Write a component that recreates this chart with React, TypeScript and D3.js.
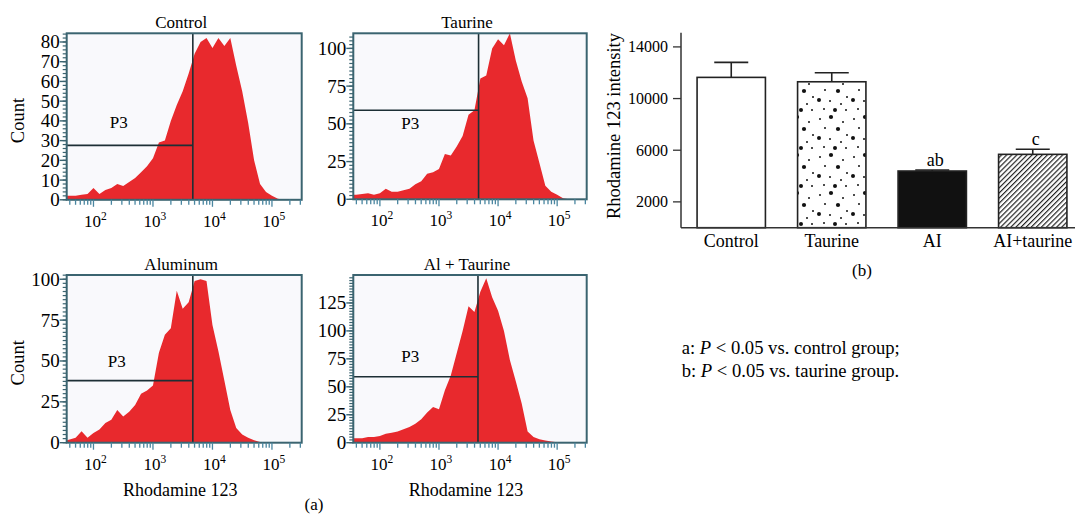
import React, { useEffect, useRef } from 'react'
import * as d3 from 'd3'

// log10 fluorescence bins shared by the four histograms
const bins = [1.55, 1.6, 1.7, 1.8, 1.9, 2.0, 2.1, 2.2, 2.3, 2.4, 2.5, 2.6, 2.7, 2.8, 2.9, 3.0, 3.1, 3.2, 3.3, 3.4, 3.5, 3.6, 3.7, 3.8, 3.9, 4.0, 4.1, 4.2, 4.3, 4.4, 4.5, 4.6, 4.7, 4.8, 4.9, 5.0, 5.1, 5.2, 5.3]

const controlCounts = [2, 2, 2, 2.5, 3, 6, 3, 5, 6, 8, 7, 9, 11, 14, 17, 21, 29, 30, 40, 48, 55, 64, 74, 80, 82, 77, 82, 78, 82, 68, 55, 39, 20, 8, 4, 2, 0.5, 0, 0]
const taurineCounts = [3, 3, 3.5, 4, 3, 4, 7, 5, 5, 6, 7, 10, 12, 17, 18, 20, 30, 29, 35, 42, 56, 59, 80, 82, 100, 106, 102, 110, 92, 78, 67, 39, 24, 9, 5, 3, 0.7, 0, 0]
const aluminumCounts = [1.5, 2, 3, 7, 3, 6, 8, 12, 14, 20, 16, 19, 23, 30, 32, 35, 55, 66, 70, 93, 82, 86, 99, 100, 99, 72, 56, 38, 20, 9, 5, 3, 1.5, 0.4, 0, 0, 0, 0, 0]
const alTaurineCounts = [4, 4, 4, 5, 5, 6, 8, 9, 10, 12, 14, 17, 21, 27, 32, 30, 47, 60, 80, 100, 122, 117, 135, 147, 130, 118, 100, 74, 55, 35, 10, 5, 3, 2, 1, 0.5, 0, 0, 0]

const panelTitles = ['Control', 'Taurine', 'Aluminum', 'Al + Taurine']
const countMax = [84.4, 110, 102.6, 150]
const countTicks = [
  [0, 10, 20, 30, 40, 50, 60, 70, 80],
  [0, 25, 50, 75, 100],
  [0, 25, 50, 75, 100],
  [0, 25, 50, 75, 100, 125],
]
const gateCounts = [27.6, 59, 38, 59]
const gateLog = [3.67, 3.67, 3.67, 3.66]
const decades = [2, 3, 4, 5]

// bar chart (b)
const groups = ['Control', 'Taurine', 'AI', 'AI+taurine']
const means = [11640, 11300, 4390, 5680]
const errors = [1160, 700, 80, 390]
const sigLabels = ['', '', 'ab', 'c']
const intensityTicks = [2000, 6000, 10000, 14000]

export default function App() {
  const svgRef = useRef<SVGSVGElement>(null)

  useEffect(() => {
    const svg = d3.select(svgRef.current)
    svg.selectAll('*').remove()
    const serif = '"Liberation Serif", "Times New Roman", serif'
    const red = '#e8292d'
    const frame = '#3b6470'
    const ink = '#222'

    const defs = svg.append('defs')

    // ---------- (a) histograms ----------
    const boxes = [
      { x0: 66.7, y0: 33.3, w: 235, h: 166.5, p3: [52, 95], xlab: false },
      { x0: 353.3, y0: 33.3, w: 233.4, h: 166, p3: [57, 96], xlab: false },
      { x0: 66.7, y0: 275, w: 235, h: 167.7, p3: [50, 92], xlab: true },
      { x0: 353.3, y0: 275, w: 233.4, h: 167.7, p3: [57, 87], xlab: true },
    ]
    const allCounts = [controlCounts, taurineCounts, aluminumCounts, alTaurineCounts]

    boxes.forEach((b, i) => {
      const g = svg.append('g')
      const xs = d3.scaleLog().domain([10 ** 1.55, 10 ** 5.5]).range([b.x0, b.x0 + b.w])
      const ys = d3.scaleLinear().domain([0, countMax[i]]).range([b.y0 + b.h, b.y0])

      defs.append('clipPath').attr('id', `clip${i}`)
        .append('rect').attr('x', b.x0).attr('y', b.y0).attr('width', b.w).attr('height', b.h)

      g.append('rect')
        .attr('x', b.x0).attr('y', b.y0).attr('width', b.w).attr('height', b.h)
        .attr('fill', '#f9f9fc')

      const area = d3.area<number>()
        .x((d, j) => xs(10 ** bins[j]))
        .y0(ys(0))
        .y1(d => ys(d))
      g.append('path')
        .datum(allCounts[i])
        .attr('d', area)
        .attr('fill', red)
        .attr('clip-path', `url(#clip${i})`)

      // gates
      const gx = xs(10 ** gateLog[i])
      g.append('line').attr('x1', gx).attr('x2', gx).attr('y1', b.y0).attr('y2', b.y0 + b.h)
        .attr('stroke', '#1d2f35').attr('stroke-width', 1.6)
      g.append('line').attr('x1', b.x0).attr('x2', gx).attr('y1', ys(gateCounts[i])).attr('y2', ys(gateCounts[i]))
        .attr('stroke', '#1d2f35').attr('stroke-width', 1.6)
      g.append('text')
        .attr('x', b.x0 + b.p3[0]).attr('y', b.y0 + b.p3[1])
        .attr('text-anchor', 'middle')
        .style('font-family', serif).style('font-size', '17px')
        .text('P3')

      // frame
      g.append('rect')
        .attr('x', b.x0).attr('y', b.y0).attr('width', b.w).attr('height', b.h)
        .attr('fill', 'none').attr('stroke', frame).attr('stroke-width', 2)

      // left ruler
      const step = i === 0 ? 2 : 2.5
      g.selectAll('.minor')
        .data(d3.range(0, countMax[i], step))
        .join('line')
        .attr('x1', b.x0 - 4).attr('x2', b.x0)
        .attr('y1', d => ys(d)).attr('y2', d => ys(d))
        .attr('stroke', frame).attr('stroke-width', 1.2)
      g.selectAll('.ytick')
        .data(countTicks[i])
        .join('g')
        .each(function (d) {
          const t = d3.select(this)
          t.append('line').attr('x1', b.x0 - 7).attr('x2', b.x0)
            .attr('y1', ys(d)).attr('y2', ys(d)).attr('stroke', frame).attr('stroke-width', 1.4)
          t.append('text')
            .attr('x', b.x0 - 7).attr('y', ys(d) + 6.5)
            .attr('text-anchor', 'end')
            .style('font-family', serif).style('font-size', '19px')
            .text(d)
        })

      // bottom log ticks
      const logTicks: number[] = []
      for (let e = 1; e <= 5; e++) {
        for (let k = 1; k <= 9; k++) {
          const v = k * 10 ** e
          if (v >= 10 ** 1.55 && v <= 10 ** 5.5) logTicks.push(v)
        }
      }
      g.selectAll('.xtick')
        .data(logTicks)
        .join('line')
        .attr('x1', d => xs(d)).attr('x2', d => xs(d))
        .attr('y1', b.y0 + b.h).attr('y2', d => b.y0 + b.h + (Math.log10(d) % 1 === 0 ? 7 : 5))
        .attr('stroke', '#4a86a0').attr('stroke-width', 1.3)

      decades.forEach(e => {
        const t = g.append('text')
          .attr('x', xs(10 ** e) + 2).attr('y', b.y0 + b.h + 27)
          .attr('text-anchor', 'middle')
          .style('font-family', serif).style('font-size', '17px')
        t.append('tspan').text('10')
        t.append('tspan').attr('dy', -7).style('font-size', '11.5px').text(e)
      })

      g.append('text')
        .attr('x', b.x0 + b.w / 2 - 3).attr('y', b.y0 - 5)
        .attr('text-anchor', 'middle')
        .style('font-family', serif).style('font-size', '17px')
        .text(panelTitles[i])

      if (i % 2 === 0) {
        g.append('text')
          .attr('transform', `translate(24, ${b.y0 + b.h / 2 + 4}) rotate(-90)`)
          .attr('text-anchor', 'middle')
          .style('font-family', serif).style('font-size', '18.5px')
          .text('Count')
      }
      if (b.xlab) {
        g.append('text')
          .attr('x', b.x0 + b.w / 2 - 4).attr('y', b.y0 + b.h + 53)
          .attr('text-anchor', 'middle')
          .style('font-family', serif).style('font-size', '18px')
          .text('Rhodamine 123')
      }
    })

    svg.append('text')
      .attr('x', 314).attr('y', 510)
      .attr('text-anchor', 'middle')
      .style('font-family', serif).style('font-size', '17px')
      .text('(a)')

    // ---------- (b) bar chart ----------
    const dots = defs.append('pattern')
      .attr('id', 'dots').attr('patternUnits', 'userSpaceOnUse')
      .attr('width', 34).attr('height', 38)
    dots.append('rect').attr('width', 34).attr('height', 38).attr('fill', '#fff')
    const dotSpots = [
      [4, 5, 1], [15, 3, 2.1], [27, 8, 1], [9, 14, 1], [22, 15, 2.1], [31, 21, 1],
      [3, 24, 2], [14, 25, 1], [25, 28, 1], [8, 33, 1], [19, 34, 2], [30, 34, 1],
    ]
    dotSpots.forEach(([cx, cy, r]) => {
      dots.append('circle').attr('cx', cx).attr('cy', cy).attr('r', r).attr('fill', '#111')
    })

    const hatch = defs.append('pattern')
      .attr('id', 'hatch').attr('patternUnits', 'userSpaceOnUse')
      .attr('width', 3.6).attr('height', 10)
      .attr('patternTransform', 'rotate(45)')
    hatch.append('rect').attr('width', 3.6).attr('height', 10).attr('fill', '#fff')
    hatch.append('line').attr('x1', 0.6).attr('x2', 0.6).attr('y1', 0).attr('y2', 10)
      .attr('stroke', '#111').attr('stroke-width', 1.1)

    const fills = ['#fff', 'url(#dots)', '#111', 'url(#hatch)']

    const xb = d3.scaleBand<string>()
      .domain(groups)
      .range([681, 1083])
      .paddingInner(0.32)
      .paddingOuter(0.16)
    const yb = d3.scaleLinear().domain([0, 15100]).range([227.7, 32.7])

    const bg = svg.append('g')
    bg.selectAll('.bar')
      .data(groups)
      .join('rect')
      .attr('x', d => xb(d)!)
      .attr('y', (d, i) => yb(means[i]))
      .attr('width', xb.bandwidth())
      .attr('height', (d, i) => yb(0) - yb(means[i]))
      .attr('fill', (d, i) => fills[i])
      .attr('stroke', ink).attr('stroke-width', 1.6)

    groups.forEach((grp, i) => {
      const cx = xb(grp)! + xb.bandwidth() / 2
      const top = yb(means[i] + errors[i])
      bg.append('line').attr('x1', cx).attr('x2', cx).attr('y1', yb(means[i])).attr('y2', top)
        .attr('stroke', ink).attr('stroke-width', 1.6)
      bg.append('line').attr('x1', cx - 17).attr('x2', cx + 17).attr('y1', top).attr('y2', top)
        .attr('stroke', ink).attr('stroke-width', 1.6)
      if (sigLabels[i]) {
        bg.append('text')
          .attr('x', cx + 3).attr('y', top - 4)
          .attr('text-anchor', 'middle')
          .style('font-family', serif).style('font-size', '18px')
          .text(sigLabels[i])
      }
      bg.append('text')
        .attr('x', cx).attr('y', 246.5)
        .attr('text-anchor', 'middle')
        .style('font-family', serif).style('font-size', '18px')
        .text(grp)
    })

    // axes
    bg.append('line').attr('x1', 681).attr('x2', 1075).attr('y1', yb(0)).attr('y2', yb(0))
      .attr('stroke', '#333').attr('stroke-width', 1.5)
    bg.append('line').attr('x1', 681).attr('x2', 681).attr('y1', yb(0)).attr('y2', yb(15100))
      .attr('stroke', '#333').attr('stroke-width', 1.5)
    intensityTicks.forEach(t => {
      bg.append('line').attr('x1', 673).attr('x2', 681).attr('y1', yb(t)).attr('y2', yb(t))
        .attr('stroke', '#333').attr('stroke-width', 1.3)
      bg.append('text')
        .attr('x', 668).attr('y', yb(t) + 5.5)
        .attr('text-anchor', 'end')
        .style('font-family', serif).style('font-size', '16px')
        .text(t)
    })
    bg.append('text')
      .attr('transform', `translate(620, 126) rotate(-90)`)
      .attr('text-anchor', 'middle')
      .style('font-family', serif).style('font-size', '18.5px')
      .text('Rhodamine 123 intensity')

    bg.append('text')
      .attr('x', 862).attr('y', 276)
      .attr('text-anchor', 'middle')
      .style('font-family', serif).style('font-size', '17px')
      .text('(b)')

    // legend notes
    const notes = [
      ['a: ', ' < 0.05 vs. control group;'],
      ['b: ', ' < 0.05 vs. taurine group.'],
    ]
    notes.forEach(([pre, post], i) => {
      const t = bg.append('text')
        .attr('x', 681.7).attr('y', 354 + i * 23.4)
        .style('font-family', serif).style('font-size', '18.6px')
      t.append('tspan').text(pre)
      t.append('tspan').style('font-style', 'italic').text('P')
      t.append('tspan').text(post)
    })
  }, [])

  return (
    <svg
      ref={svgRef}
      width={1075}
      height={523}
      style={{ position: 'absolute', left: 0, top: 0, background: '#fff' }}
    />
  )
}
